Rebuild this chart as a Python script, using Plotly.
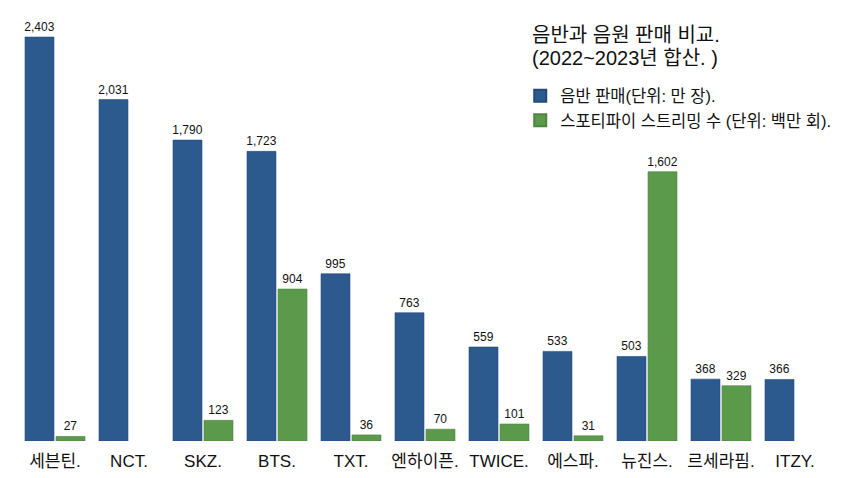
import plotly.graph_objects as go

categories = ["세븐틴.", "NCT.", "SKZ.", "BTS.", "TXT.", "엔하이픈.", "TWICE.", "에스파.", "뉴진스.", "르세라핌.", "ITZY."]
album_sales = [2403, 2031, 1790, 1723, 995, 763, 559, 533, 503, 368, 366]
spotify_streams = [27, None, 123, 904, 36, 70, 101, 31, 1602, 329, None]

name_album = "음반 판매(단위: 만 장)."
name_spotify = "스포티파이 스트리밍 수 (단위: 백만 회)."
title_lines = ["음반과 음원 판매 비교.", "(2022~2023년 합산. )"]

FONT = "Liberation Sans, Arial, Noto Sans CJK KR, sans-serif"
BLUE = "#2d5a8e"
GREEN = "#5c9a4b"

def fmt(v):
    return "" if v is None else f"{v:,}"

fig = go.Figure()
fig.add_trace(go.Bar(
    x=categories, y=album_sales, name=name_album,
    marker=dict(color=BLUE, line=dict(color="#24497a", width=0.6)),
    text=[fmt(v) for v in album_sales], textposition="outside",
    constraintext="none",
    textfont=dict(size=12, color="#111", family=FONT), cliponaxis=False,
))
fig.add_trace(go.Bar(
    x=categories, y=spotify_streams, name=name_spotify,
    marker=dict(color=GREEN, line=dict(color="#4d8540", width=0.6)),
    text=[fmt(v) for v in spotify_streams], textposition="outside",
    constraintext="none",
    textfont=dict(size=12, color="#111", family=FONT), cliponaxis=False,
))

annotations = []
for line, yy in zip(title_lines, [0.943, 0.889]):
    annotations.append(dict(
        text=line, xref="paper", yref="paper",
        x=0.629, y=yy, xanchor="left", yanchor="middle",
        showarrow=False, align="left",
        font=dict(size=20, family=FONT, color="#111"),
    ))

fig.update_layout(
    width=842, height=470,
    margin=dict(l=10, r=18, t=2, b=37),
    paper_bgcolor="white", plot_bgcolor="white",
    barmode="group", bargap=0.162, bargroupgap=0.065,
    font=dict(family=FONT, color="#111"),
    showlegend=True,
    legend=dict(
        x=0.617, xanchor="left", y=0.841, yanchor="top",
        font=dict(size=16.5, family=FONT, color="#111"),
        bgcolor="rgba(0,0,0,0)", tracegroupgap=0, itemsizing="constant",
    ),
    annotations=annotations,
)
fig.update_xaxes(
    showline=False, showgrid=False, ticks="",
    tickfont=dict(size=17, family=FONT, color="#111"),
    ticklabelstandoff=8,
)
fig.update_yaxes(
    range=[0, 2564], visible=False, showgrid=False, zeroline=False,
)

fig.write_html("out.html")
